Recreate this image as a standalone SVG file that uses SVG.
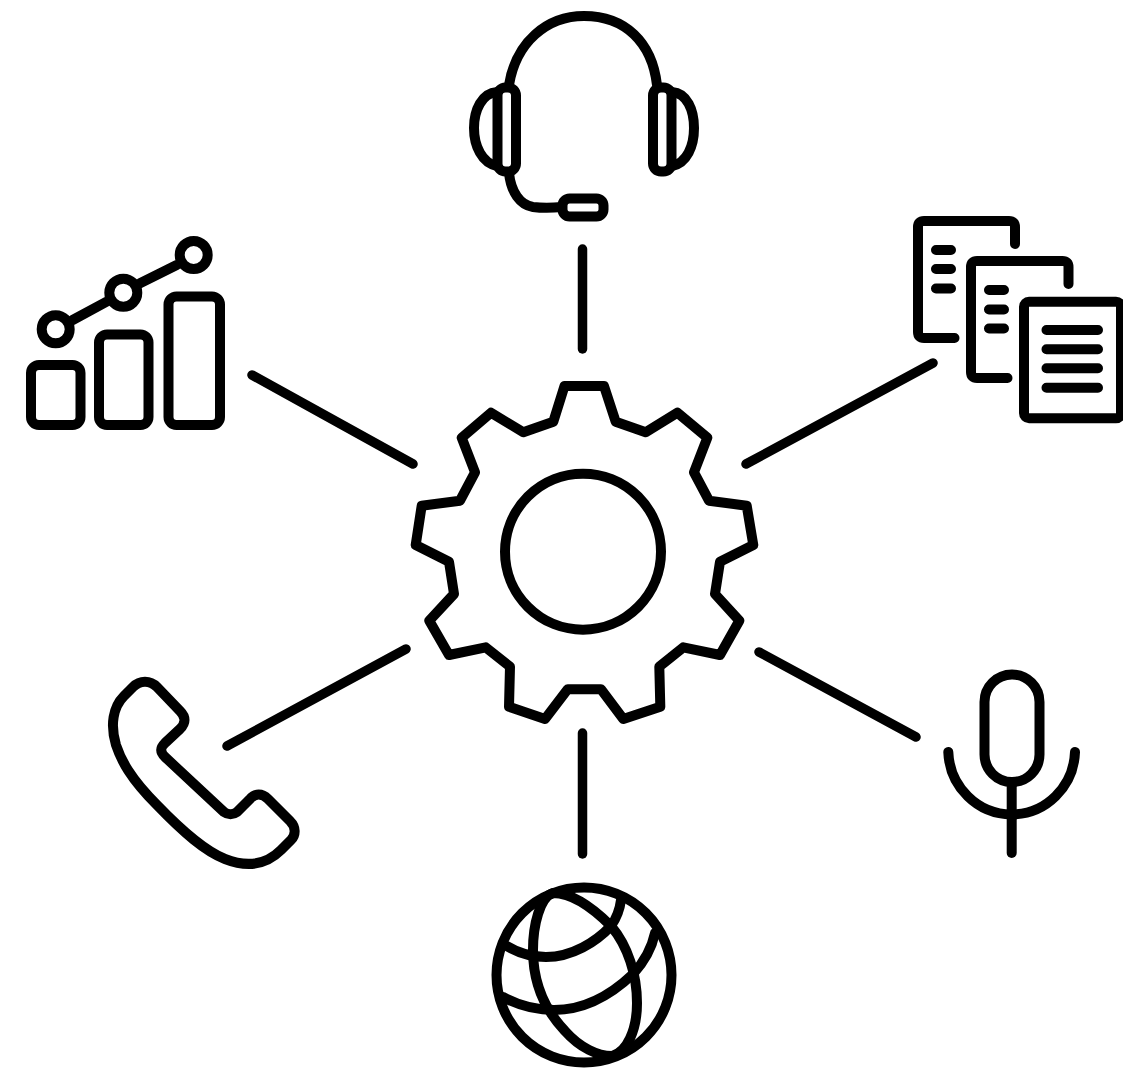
<svg xmlns="http://www.w3.org/2000/svg" width="1123" height="1070" viewBox="0 0 1123 1070">
<style>
.s{fill:none;stroke:#000;stroke-width:10;stroke-linecap:round;stroke-linejoin:round}
.c{fill:none;stroke:#000;stroke-width:9.500;stroke-linecap:round}
</style>
<rect width="1123" height="1070" fill="#fff"/>
<g id="connectors">
<line class="c" x1="582.500" y1="249" x2="582.500" y2="349"/>
<line class="c" x1="933" y1="363" x2="746" y2="464"/>
<line class="c" x1="759" y1="652" x2="916" y2="737"/>
<line class="c" x1="582.500" y1="733" x2="582.500" y2="854"/>
<line class="c" x1="406" y1="649" x2="227" y2="746"/>
<line class="c" x1="413" y1="464" x2="252" y2="375"/>
</g>
<g id="gear">
<path class="s" d="M564.500 386H604L615.700 421.700L645.700 432.300L677.300 412.700L707.300 437.700L694 472.300L709 500.700L746.700 505.700L753.300 545L720 561.700L715 594L739.300 620.700L720 655L683.300 647.300L659.300 666.700L660.300 706.700L623.300 719L601 689.300H567.700L545 719L509 706.700L510 666.700L485.700 647.300L449 655L429.300 620.700L454 594L449 561.700L415.700 545L421.700 505.700L460 500.700L475 472.300L461.700 437.700L491 412.700L523.300 432.300L553.300 421.700Z"/>
<circle class="s" cx="583" cy="551.700" r="78"/>
</g>
<g id="headset">
<path class="s" d="M509 85C516 42 547 16 584 16C625 16 652 42 657 85"/>
<rect class="s" x="497.500" y="87.500" width="18.500" height="84" rx="8"/>
<rect class="s" x="653" y="87.500" width="18.500" height="84" rx="8"/>
<path class="s" d="M497 92C482 93 474 110 474 128C474 146 482 163 497 166"/>
<path class="s" d="M672 92C687 93 694 110 694 128C694 146 687 163 672 166"/>
<rect class="s" x="562.500" y="198.500" width="41" height="18" rx="7"/>
<path class="s" d="M509 173C511 192 520 205 533 207C541 208 552 208 562 207"/>
</g>
<g id="documents">
<path class="s" d="M1015 244V227Q1015 221 1009 221H924Q918 221 918 227V332Q918 338 924 338H954.500"/>
<path class="s" d="M936 250H951M936 269H951M936 288.500H951"/>
<path class="s" d="M1068.500 284V267Q1068.500 261 1062.500 261H977Q971 261 971 267V372Q971 378 977 378H1007.500"/>
<path class="s" d="M989 290H1004M989 309.500H1004M989 328.500H1004"/>
<rect class="s" x="1024" y="301.700" width="97" height="116.600" rx="5"/>
<path class="s" d="M1046.500 330H1098M1046.500 349.300H1098M1046.500 368.300H1098M1046.500 387.700H1098"/>
</g>
<g id="microphone">
<rect class="s" x="984.500" y="674.500" width="55" height="107.500" rx="27.500"/>
<path class="s" d="M948.300 752A63.400 65 0 0 0 1075 752"/>
<path class="s" d="M1011.700 785V853"/>
</g>
<g id="globe">
<circle class="s" cx="584" cy="975" r="87.500"/>
<path class="s" d="M553 893C570 893 590 905 611 926C628 946 637 975 637 1003C637 1030 627 1052 612 1056C598 1056 580 1048 565 1031C545 1010 533 985 533 950C533 925 540 897 553 893Z"/>
<path class="s" d="M505 945C518 953 532 957 546 957C572 957 596 942 611 926C618 916 620 908 621 900"/>
<path class="s" d="M503 997C518 1005 536 1010 554 1010C585 1010 612 994 633 974C644 962 652 947 655 933"/>
</g>
<g id="phone">
<path class="s" d="M133 687C140 680 150 680 157 687L180 711C186 717 186 723 180 729L165 743C160 748 160 752 165 757L224 812C228 815 233 815 237 812L250 799C255 793 262 793 268 799L290 821C296 827 296 835 291 840L281 850C267 864 248 868 225 859C205 851 184 833 157 805C130 778 121 760 116 745C110 725 113 707 124 696Z"/>
</g>
<g id="chart">
<rect class="s" x="31" y="365" width="49.500" height="60" rx="8"/>
<rect class="s" x="99" y="334.500" width="49.500" height="90.500" rx="8"/>
<rect class="s" x="168.500" y="296.500" width="51.500" height="128.500" rx="8"/>
<circle class="s" cx="55.700" cy="329.300" r="14"/>
<circle class="s" cx="123.300" cy="292.700" r="14"/>
<circle class="s" cx="193.700" cy="255" r="14"/>
<path class="s" d="M72.700 320L106.700 301.700M140 283.300L176.700 265" stroke-linecap="butt"/>
</g>
</svg>
